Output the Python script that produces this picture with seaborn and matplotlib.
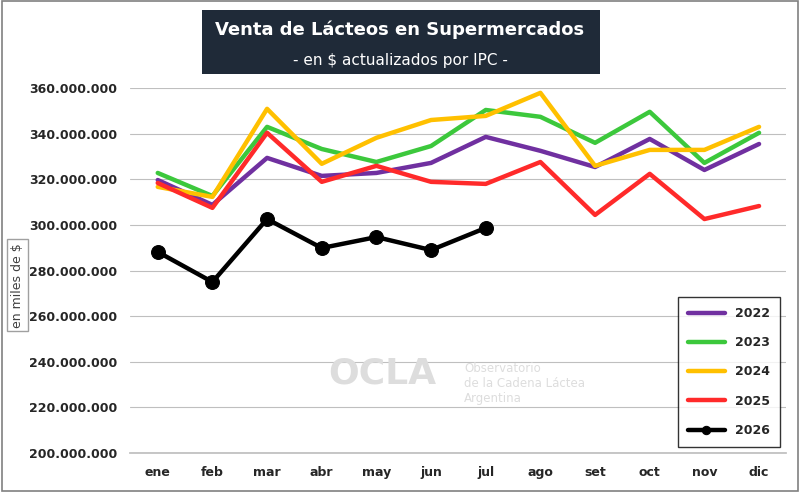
import matplotlib
matplotlib.use("Agg")
import matplotlib.pyplot as plt
import pandas as pd
import seaborn as sns
from matplotlib.ticker import FuncFormatter

meses = ["ene", "feb", "mar", "abr", "may", "jun", "jul", "ago", "set", "oct", "nov", "dic"]
v2022 = [319.7, 308.8, 329.4, 321.5, 322.8, 327.2, 338.6, 332.5, 325.4, 337.7, 324.1, 335.5]
v2023 = [322.8, 312.7, 343.0, 333.3, 327.6, 334.6, 350.4, 347.4, 336.0, 349.6, 327.2, 340.4]
v2024 = [316.7, 312.3, 350.9, 326.8, 338.2, 346.0, 347.8, 357.9, 325.9, 332.9, 332.9, 343.0]
v2025 = [318.4, 307.5, 340.4, 318.9, 325.9, 318.9, 318.0, 327.6, 304.4, 322.4, 302.6, 308.3]
v2026 = [288.2, 275.0, 302.6, 289.9, 294.7, 289.0, 298.7]

series = {"2022": v2022, "2023": v2023, "2024": v2024, "2025": v2025, "2026": v2026}
rows = []
for year, vals in series.items():
    for i, v in enumerate(vals):
        rows.append({"mes": i, "valor": v * 1e6, "anio": year})
df = pd.DataFrame(rows)

colors = {"2022": "#7030A0", "2023": "#3CC83C", "2024": "#FFC000", "2025": "#FF2A2A", "2026": "#000000"}

sns.set_theme(style="white")
plt.rcParams["font.family"] = ["DejaVu Sans"]
fig = plt.figure(figsize=(8, 4.92), dpi=100)
ax = fig.add_axes([0.163, 0.079, 0.82, 0.742])

sns.lineplot(data=df[df.anio != "2026"], x="mes", y="valor", hue="anio", palette=colors,
             linewidth=3.2, ax=ax)
sns.lineplot(data=df[df.anio == "2026"], x="mes", y="valor", hue="anio", palette=colors,
             linewidth=3.2, marker="o", markersize=10, markeredgecolor="black", ax=ax)

ax.set_xlim(-0.5, 11.5)
ax.set_ylim(200e6, 360e6)
ax.set_yticks([200e6 + 20e6 * i for i in range(9)])
ax.yaxis.set_major_formatter(FuncFormatter(lambda v, p: f"{int(v):,}".replace(",", ".")))
ax.set_xticks(range(12))
ax.set_xticklabels(meses)
ax.tick_params(labelsize=9)
for lbl in ax.get_xticklabels() + ax.get_yticklabels():
    lbl.set_fontweight("bold")
ax.grid(axis="y", color="#BFBFBF", linewidth=0.8)
for s in ["top", "right", "left"]:
    ax.spines[s].set_visible(False)
ax.spines["bottom"].set_color("#BFBFBF")
ax.set_xlabel("")
ax.set_ylabel("")

leg = ax.legend(loc="lower right", fontsize=9, frameon=True, edgecolor="black",
                fancybox=False, labelspacing=1.3, handlelength=3, borderpad=0.8, markerscale=0.6)
for t in leg.get_texts():
    t.set_fontweight("bold")

fig.text(0.5, 0.94, "Venta de Lácteos en Supermercados", ha="center", va="center",
         fontsize=13, fontweight="bold", color="white")
fig.text(0.5, 0.877, "- en $ actualizados por IPC -", ha="center", va="center",
         fontsize=11, color="white")
fig.patches.append(plt.Rectangle((0.253, 0.85), 0.497, 0.13, transform=fig.transFigure,
                                 facecolor="#1F2A38", edgecolor="none", zorder=0))
fig.text(0.022, 0.42, "en miles de $", rotation=90, ha="center", va="center", fontsize=9,
         color="#404040", bbox=dict(facecolor="white", edgecolor="#A0A0A0", boxstyle="square,pad=0.3"))
fig.text(0.41, 0.24, "OCLA", fontsize=26, fontweight="bold", color="#DDDDDD", ha="left", va="center")
fig.text(0.58, 0.22, "Observatorio\nde la Cadena Láctea\nArgentina", fontsize=8.5,
         color="#DDDDDD", ha="left", va="center")
fig.patches.append(plt.Rectangle((0.002, 0.002), 0.996, 0.996, transform=fig.transFigure,
                                 facecolor="none", edgecolor="#808080", linewidth=1.2))

fig.savefig("out.png", dpi=100)
